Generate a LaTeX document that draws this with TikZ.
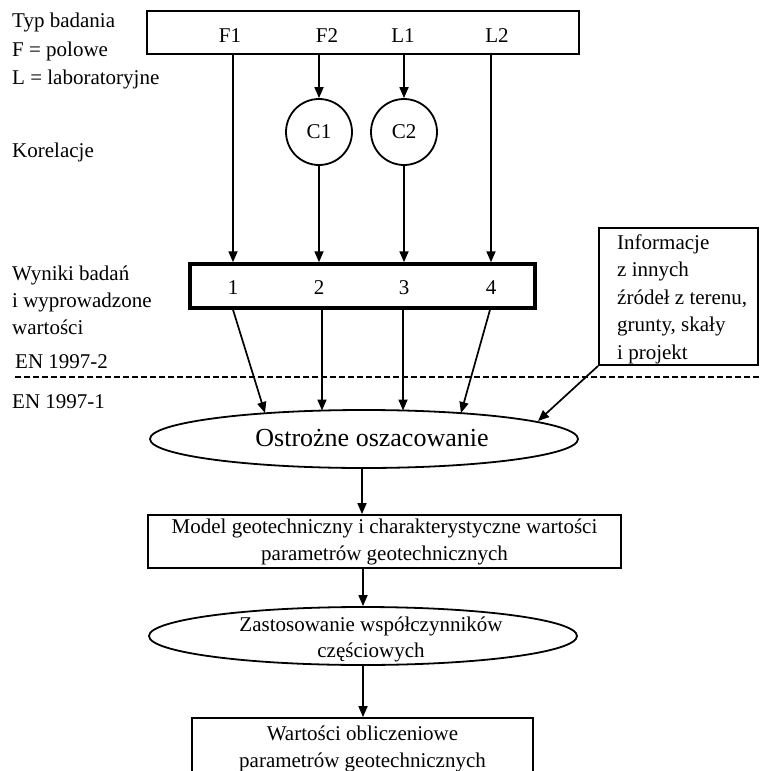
\documentclass[tikz,border=0pt]{standalone}
\usepackage{fontspec}
\setmainfont{Liberation Serif}
\usetikzlibrary{shapes.geometric,arrows.meta}

\tikzset{
  lbl/.style={font=\fontsize{21}{27}\selectfont, inner sep=0pt},
  side/.style={lbl, anchor=west, align=left},
  box/.style={draw, line width=1.8pt, rectangle, inner sep=0pt},
  oval/.style={draw, line width=1.8pt, ellipse, inner sep=0pt,
               minimum width=428pt, minimum height=58pt},
  corr/.style={draw, line width=1.8pt, circle, inner sep=0pt,
               minimum size=66pt, lbl},
  arr/.style={line width=1.7pt, -{Triangle[length=11pt,width=9pt]}},
}

\begin{document}
\begin{tikzpicture}[x=1pt, y=-1pt]
\clip (0,0) rectangle (761,771);
\fill[white] (0,0) rectangle (761,771);

% left-hand captions
\node[side, font=\fontsize{21}{28.5}\selectfont] (typ) at (12,51)
  {Typ badania\\F = polowe\\L = laboratoryjne};
\node[side] (kor) at (12,152) {Korelacje};
\node[side] (wyn-txt) at (12,300) {Wyniki badań\\i wyprowadzone\\wartości};
\node[side] (en2) at (15,362) {EN 1997-2};
\node[side] (en1) at (12,402) {EN 1997-1};

% boundary between the two parts of the standard
\draw[line width=1.8pt, dash pattern=on 6pt off 3pt] (15,377) -- (761,377);

% test types
\node[box, minimum width=432pt, minimum height=43pt] (top) at (363,32.5) {};
\node[lbl] (f1) at (230,36) {F1};
\node[lbl] (f2) at (327,36) {F2};
\node[lbl] (l1) at (403,36) {L1};
\node[lbl] (l2) at (497,36) {L2};

% correlations
\node[corr] (c1) at (319,132) {C1};
\node[corr] (c2) at (404,132) {C2};

% test results
\node[box, line width=3.5pt, minimum width=345pt, minimum height=44pt] (wyn) at (362.5,286) {};
\node[lbl] (n1) at (233,288) {1};
\node[lbl] (n2) at (319,288) {2};
\node[lbl] (n3) at (404,288) {3};
\node[lbl] (n4) at (491,288) {4};

% other information
\node[box, minimum width=159pt, minimum height=137pt] (info) at (678.5,296.5) {};
\node[lbl, anchor=west, align=left, font=\fontsize{21}{27.5}\selectfont] (info-txt) at (617,299)
  {Informacje\\z innych\\źródeł z terenu,\\grunty, skały\\i projekt};

% cautious estimate
\node[oval] (ost) at (364,439) {};
\node[lbl, font=\fontsize{26}{30}\selectfont] (ost-txt) at (372,438) {Ostrożne oszacowanie};
\coordinate (e1) at (265,413);
\coordinate (e2) at (322,410.5);
\coordinate (e3) at (403,410.5);
\coordinate (e4) at (461,413);
\coordinate (e5) at (538,421);

% geotechnical model
\node[box, lbl, align=center, minimum width=473pt, minimum height=53pt] (mod) at (384.5,541.5)
  {Model geotechniczny i charakterystyczne wartości\\parametrów geotechnicznych};

% partial factors
\node[oval] (zas) at (363,636) {};
\node[lbl, align=center, font=\fontsize{21}{26}\selectfont] (zas-txt) at (371,639)
  {Zastosowanie współczynników\\częściowych};

% design values
\node[box, lbl, align=center, minimum width=341pt, minimum height=61pt] (war) at (362.5,748.5)
  {Wartości obliczeniowe\\parametrów geotechnicznych};

% connectors, upper part
\draw[arr] (n1 |- top.south) -- (n1 |- wyn.north);
\draw[arr] (c1 |- top.south) -- (c1.north);
\draw[arr] (c1.south) -- (c1 |- wyn.north);
\draw[arr] (c2 |- top.south) -- (c2.north);
\draw[arr] (c2.south) -- (c2 |- wyn.north);
\draw[arr] (n4 |- top.south) -- (n4 |- wyn.north);

% connectors into the estimate
\draw[arr] (n1 |- wyn.south) -- (e1);
\draw[arr] ([xshift=3pt]n2 |- wyn.south) -- (e2);
\draw[arr] ([xshift=-1pt]n3 |- wyn.south) -- (e3);
\draw[arr] ([xshift=-1pt]n4 |- wyn.south) -- (e4);
\draw[arr] (info.south west) -- (e5);

% connectors, lower part
\draw[arr] ([xshift=-2pt]ost.south) -- ([xshift=-2pt]ost.south |- mod.north);
\draw[arr] (zas |- mod.south) -- (zas.north);
\draw[arr] (zas.south) -- (zas.south |- war.north);
\end{tikzpicture}
\end{document}
